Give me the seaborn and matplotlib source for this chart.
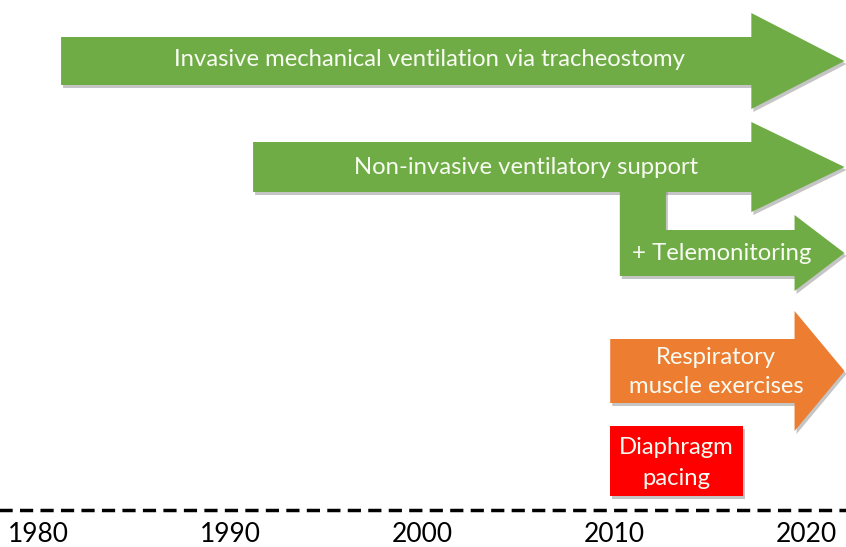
import numpy as np
import matplotlib
matplotlib.use("Agg")
import matplotlib.pyplot as plt
import matplotlib.transforms as mtransforms
from matplotlib.patches import Polygon
import seaborn as sns

# dati della timeline (anni di inizio / fine di ogni intervento)
etichette = ["Invasive mechanical ventilation via tracheostomy",
             "Non-invasive ventilatory support",
             "+ Telemonitoring",
             "Respiratory\nmuscle exercises",
             "Diaphragm\npacing"]
anno_inizio = [1981.2, 1991.2, 2010.3, 2009.8, 2009.8]
anno_fine = [2022.0, 2022.0, 2022.0, 2022.0, 2016.7]
anno_diramazione = 2012.7   # fine del raccordo tra NIV e telemonitoraggio
tick_anni = [1980, 1990, 2000, 2010, 2020]

verde = "#6FAC46"
arancio = "#ED7D31"
rosso = "#FF0000"

sns.set_theme(style="white")
plt.rcParams['font.family'] = ['Lato', 'DejaVu Sans']

fig = plt.figure(figsize=(8.46, 5.47), dpi=100)
ax = fig.add_axes([0, 0, 1, 1])
ax.set_xlim(1978.02, 2022.08)
ax.set_ylim(547, 0)
ax.axis('off')

# layout verticale (centro, mezza altezza corpo, mezza altezza punta, lunghezza punta in anni)
layout = [
    (61, 24, 48, 4.85),
    (167, 25, 45, 4.85),
    (253, 23, 38, 2.6),
    (371, 32, 60, 2.6),
]


def freccia(x0, x1, yc, hb, hh, hl):
    xb = x1 - hl
    return [(x0, yc - hb), (xb, yc - hb), (xb, yc - hh), (x1, yc),
            (xb, yc + hh), (xb, yc + hb), (x0, yc + hb)]


forme = []
# telemonitoraggio con raccordo verticale
yc, hb, hh, hl = layout[2]
xb = anno_fine[2] - hl
tele = [(anno_inizio[2], 185), (anno_diramazione, 185), (anno_diramazione, yc - hb),
        (xb, yc - hb), (xb, yc - hh), (anno_fine[2], yc), (xb, yc + hh),
        (xb, yc + hb), (anno_inizio[2], yc + hb)]
forme.append((tele, verde))
for i in [0, 1]:
    yc, hb, hh, hl = layout[i]
    forme.append((freccia(anno_inizio[i], anno_fine[i], yc, hb, hh, hl), verde))
yc, hb, hh, hl = layout[3]
forme.append((freccia(anno_inizio[3], anno_fine[3], yc, hb, hh, hl), arancio))
# box diaframma
box = [(anno_inizio[4], 426), (anno_fine[4], 426), (anno_fine[4], 496), (anno_inizio[4], 496)]
forme.append((box, rosso))

# ombre
ombra = mtransforms.offset_copy(ax.transData, fig=fig, x=2, y=-3, units='dots')
for pts, col in forme:
    ax.add_patch(Polygon(pts, closed=True, facecolor='#7f7f7f', alpha=0.45,
                         edgecolor='none', transform=ombra, zorder=1))
for pts, col in forme:
    ax.add_patch(Polygon(pts, closed=True, facecolor=col, edgecolor='none', zorder=2))

# testi
stile = dict(color='#F7FBF2', fontsize=17.2, ha='center', va='center', zorder=3)
ax.text(2000.4, 60, etichette[0], **stile)
ax.text(2005.4, 167, etichette[1], **stile)
ax.text(2015.6, 253, etichette[2], **stile)
ax.text(2015.3, 372, etichette[3], linespacing=1.45, **stile)
ax.text((anno_inizio[4] + anno_fine[4]) / 2, 463, etichette[4], linespacing=1.55, **stile)

# linea tratteggiata e anni
ax.plot([1977.5, 2022.5], [510, 510], color='black', lw=2.5, dashes=(3.8, 2.1), zorder=2)
for a in tick_anni:
    ax.text(a, 535, str(a), fontsize=19, color='black', ha='center', va='center')

plt.savefig('out.png', dpi=100)
